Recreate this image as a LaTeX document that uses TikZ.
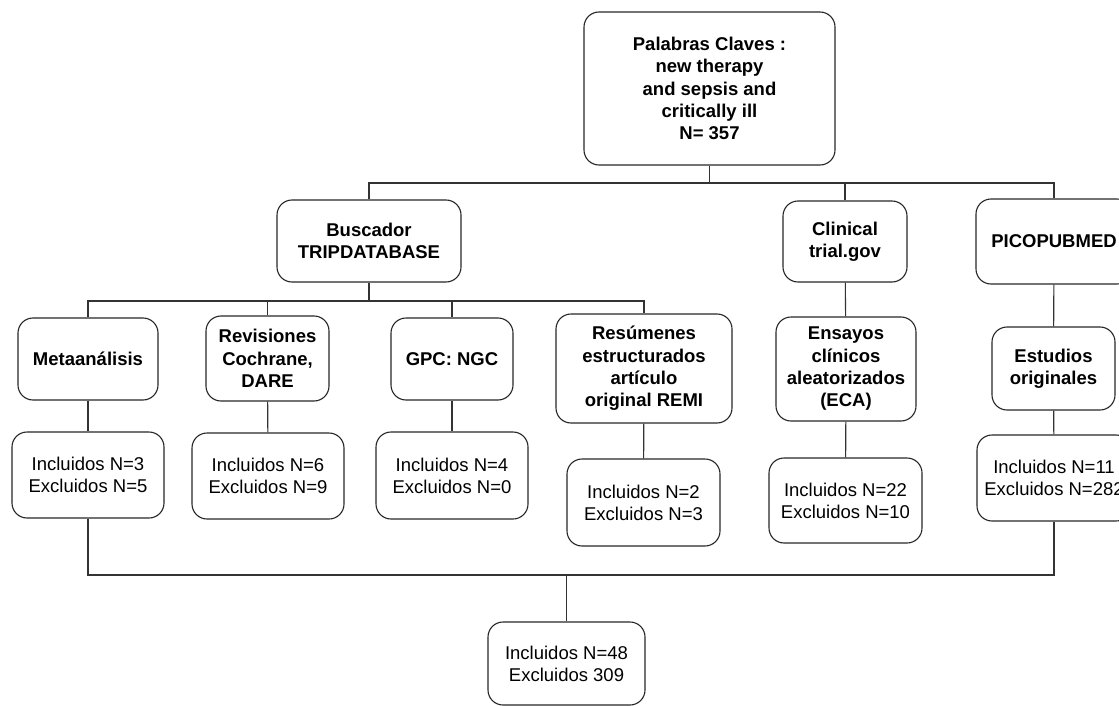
\documentclass[tikz,border=0pt]{standalone}
\usepackage{fontspec}
\setmainfont{Liberation Sans}
\begin{document}
\begin{tikzpicture}[
        x = 1pt,
        y = -1pt,
        every node/.style = {
            font = \fontsize{18.5}{22}\selectfont
        },
        caja/.style = {
            draw = black!85,
            line width = 1.1pt,
            rounded corners = 15pt,
            align = center,
            inner sep = 0pt
        },
        titulo/.style = {
            caja,
            font = \fontsize{18.5}{22.3}\selectfont\bfseries
        },
        linea/.style = {
            draw = black!80,
            line width = 1.1pt
        }
    ]
    \clip (0,0) rectangle (1119,706);
    % palabras claves
    \node[titulo, minimum width=251pt, minimum height=153pt] (claves) at (709.5,88.5)
        {Palabras Claves :\\new therapy\\and sepsis and\\critically ill\\N= 357};
    % buscadores
    \node[titulo, minimum width=184pt, minimum height=82pt] (trip) at (369,241) {Buscador\\TRIPDATABASE};
    \node[titulo, minimum width=124pt, minimum height=81pt] (clinical) at (845,241.5) {Clinical\\trial.gov};
    \node[titulo, minimum width=156pt, minimum height=85pt] (pico) at (1054,241.5) {PICOPUBMED};
    % tipos de estudio
    \node[titulo, minimum width=140pt, minimum height=82pt] (meta) at (88,359) {Metaanálisis};
    \node[titulo, minimum width=123pt, minimum height=85pt] (cochrane) at (267.5,358.5) {Revisiones\\Cochrane,\\DARE};
    \node[titulo, minimum width=122pt, minimum height=82pt] (gpc) at (452,359) {GPC: NGC};
    \node[titulo, minimum width=176pt, minimum height=109pt] (remi) at (644,368.5)
        {Resúmenes\\estructurados\\artículo\\original REMI};
    \node[titulo, minimum width=140pt, minimum height=104pt] (eca) at (846,369)
        {Ensayos\\clínicos\\aleatorizados\\(ECA)};
    \node[titulo, minimum width=123pt, minimum height=83pt] (originales) at (1053.5,368.5) {Estudios\\originales};
    % resultados
    \node[caja, minimum width=152pt, minimum height=86pt] (resMeta) at (88,475) {Incluidos N=3\\Excluidos N=5};
    \node[caja, minimum width=152pt, minimum height=86pt] (resCochrane) at (268,476) {Incluidos N=6\\Excluidos N=9};
    \node[caja, minimum width=152pt, minimum height=87pt] (resGpc) at (452,475.5) {Incluidos N=4\\Excluidos N=0};
    \node[caja, minimum width=153pt, minimum height=87pt] (resRemi) at (643.5,502.5) {Incluidos N=2\\Excluidos N=3};
    \node[caja, minimum width=153pt, minimum height=85pt] (resEca) at (845.5,500.5) {Incluidos N=22\\Excluidos N=10};
    \node[caja, minimum width=154pt, minimum height=86pt] (resPico) at (1054,478) {Incluidos N=11\\Excluidos N=282};
    \node[caja, minimum width=157pt, minimum height=83pt] (total) at (566.5,663.5) {Incluidos N=48\\Excluidos 309};
    % conectores
    \coordinate (barraA) at (0,183);
    \coordinate (barraB) at (0,301);
    \coordinate (barraC) at (0,575);
    \draw[linea] (claves.south) -- (claves.south |- barraA);
    \draw[linea] (trip.north) |- (pico.north |- barraA) -- (pico.north);
    \draw[linea] (clinical.north) -- (clinical.north |- barraA);
    \draw[linea] (trip.south) -- (trip.south |- barraB);
    \draw[linea] (meta.north) |- (remi.north |- barraB) -- (remi.north);
    \draw[linea] (cochrane.north) -- (cochrane.north |- barraB);
    \draw[linea] (gpc.north) -- (gpc.north |- barraB);
    \draw[linea] (meta) -- (resMeta);
    \draw[linea] (cochrane) -- (resCochrane);
    \draw[linea] (gpc) -- (resGpc);
    \draw[linea] (remi) -- (resRemi);
    \draw[linea] (clinical) -- (eca);
    \draw[linea] (eca) -- (resEca);
    \draw[linea] (pico) -- (originales);
    \draw[linea] (originales) -- (resPico);
    \draw[linea] (resMeta.south) |- (resPico.south |- barraC) -- (resPico.south);
    \draw[linea] (total.north) -- (total.north |- barraC);
\end{tikzpicture}
\end{document}
